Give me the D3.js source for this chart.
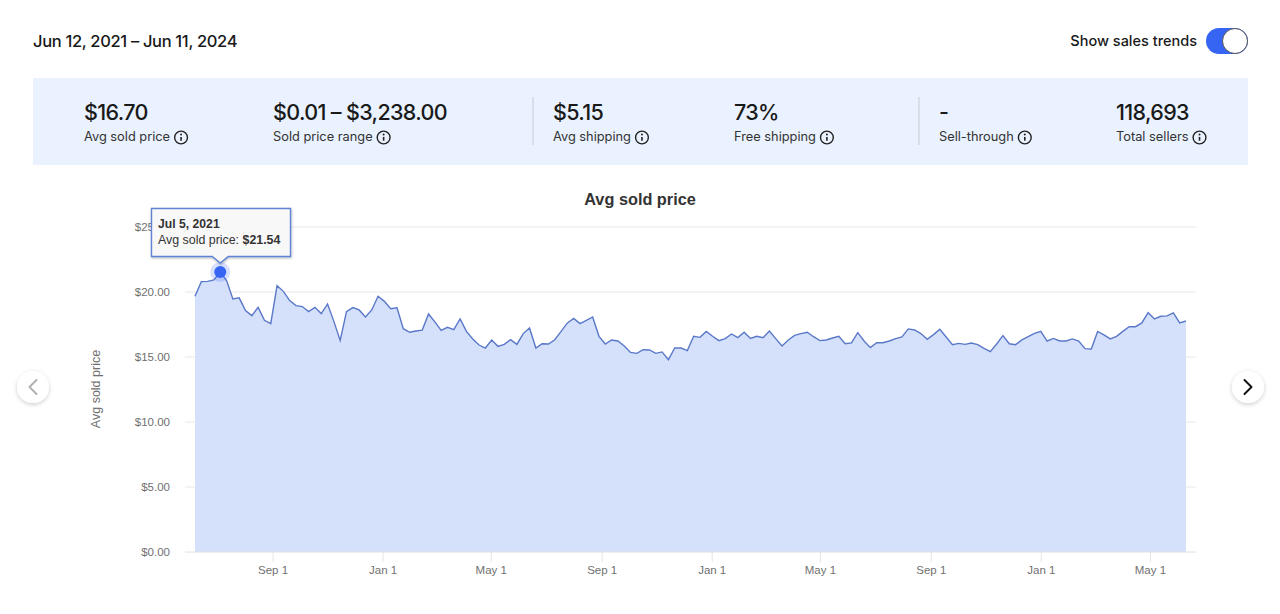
<!DOCTYPE html>
<html>
<head>
<meta charset="utf-8">
<script src="https://cdn.jsdelivr.net/npm/d3@7"></script>
<style>
    html, body { margin:0; padding:0; background:#fff; overflow:hidden; }
    svg { display:block; }
    .ui { font-family:Inter, "Open Sans", sans-serif; fill:#191919; }
    .chart text { font-family:"Liberation Sans", Arial, sans-serif; }
</style>
</head>
<body>
<svg id="page" width="1280" height="614"></svg>
<script>
var prices = [
    19.67,20.80,20.82,20.93,21.54,20.88,19.47,19.55,18.57,18.18,18.82,17.82,17.57,20.49,20.05,19.34,
    18.95,18.88,18.49,18.82,18.34,19.08,17.74,16.28,18.49,18.80,18.62,18.08,18.62,19.67,19.28,18.72,
    18.78,17.18,16.90,17.00,17.07,18.31,17.70,17.05,17.28,17.10,17.93,16.97,16.39,15.92,15.69,16.31,
    15.82,15.97,16.33,15.97,16.80,17.23,15.69,16.02,16.00,16.33,16.97,17.62,17.97,17.57,17.82,18.08,
    16.59,16.00,16.31,16.23,15.85,15.35,15.28,15.56,15.54,15.28,15.39,14.79,15.69,15.69,15.49,16.59,
    16.51,16.97,16.60,16.26,16.41,16.77,16.49,16.90,16.43,16.59,16.49,17.00,16.41,15.85,16.31,16.66,
    16.80,16.90,16.56,16.26,16.31,16.46,16.59,16.02,16.08,16.87,16.23,15.72,16.10,16.10,16.23,16.41,
    16.54,17.16,17.08,16.80,16.36,16.72,17.13,16.54,15.95,16.05,15.97,16.08,15.95,15.66,15.41,16.00,
    16.64,16.02,15.95,16.31,16.56,16.82,16.97,16.23,16.43,16.23,16.23,16.39,16.23,15.64,15.62,16.97,
    16.70,16.39,16.59,16.97,17.33,17.33,17.62,18.41,17.93,18.13,18.16,18.39,17.62,17.77
];
var firstWeek = new Date(2021, 5, 7);
var yTicks = [0, 5, 10, 15, 20, 25];
var xTicks = [new Date(2021,8,1), new Date(2022,0,1), new Date(2022,4,1), new Date(2022,8,1),
    new Date(2023,0,1), new Date(2023,4,1), new Date(2023,8,1), new Date(2024,0,1), new Date(2024,4,1)];

var statValues = ['$16.70', '$0.01 – $3,238.00', '$5.15', '73%', '-', '118,693'];
var statLabels = ['Avg sold price', 'Sold price range', 'Avg shipping', 'Free shipping', 'Sell-through', 'Total sellers'];
var statLeft = [84, 273, 553, 734, 939, 1116];
var dividers = [533, 919];

var dateRange = 'Jun 12, 2021 – Jun 11, 2024';
var highlighted = 4;

var svg = d3.select('#page');

var defs = svg.append('defs');
var shadow = defs.append('filter').attr('id','btnShadow').attr('x','-40%').attr('y','-40%').attr('width','180%').attr('height','180%');
shadow.append('feDropShadow').attr('dx',0).attr('dy',1.5).attr('stdDeviation',2).attr('flood-color','#000').attr('flood-opacity',0.2);
var tipShadow = defs.append('filter').attr('id','tipShadow').attr('x','-10%').attr('y','-20%').attr('width','120%').attr('height','140%');
tipShadow.append('feDropShadow').attr('dx',0.5).attr('dy',1).attr('stdDeviation',1).attr('flood-color','#000').attr('flood-opacity',0.3);

// header
svg.append('text').attr('class','ui').attr('x',33).attr('y',46.5)
    .style('font-size','16.5px').style('letter-spacing','-0.33px').style('font-weight',500).text(dateRange);
svg.append('text').attr('class','ui').attr('x',1197).attr('y',45.5).attr('text-anchor','end')
    .style('font-size','14.5px').style('font-weight',500).text('Show sales trends');

var toggle = svg.append('g');
toggle.append('rect').attr('x',1206).attr('y',28).attr('width',42).attr('height',26).attr('rx',13).attr('fill','#3665f3');
toggle.append('circle').attr('cx',1235).attr('cy',41).attr('r',12.5).attr('fill','#fff').attr('stroke','#555').attr('stroke-width',1);

// stats band
svg.append('rect').attr('x',33).attr('y',78).attr('width',1215).attr('height',87).attr('fill','#e9f2fe');

svg.selectAll('.divider').data(dividers).enter().append('line')
    .attr('class','divider').attr('x1',function(d){return d}).attr('x2',function(d){return d})
    .attr('y1',97).attr('y2',145).attr('stroke','#c9ccd3');

var stat = svg.selectAll('.stat').data(statValues).enter().append('g')
    .attr('class','stat')
    .attr('transform',function(d,i){return 'translate('+statLeft[i]+',0)'});

stat.append('text').attr('class','ui').attr('y',119.5)
    .style('font-size','21.5px').style('letter-spacing','-0.65px').style('font-weight',500).text(function(d){return d});

stat.append('text').attr('class','ui stat-label').attr('y',141)
    .style('font-size','12.8px').style('fill','#333').text(function(d,i){return statLabels[i]});

stat.each(function(){
    var g = d3.select(this);
    var cx = g.select('.stat-label').node().getComputedTextLength() + 11;
    var icon = g.append('g').attr('transform','translate('+cx+',137.5)').attr('stroke','#222').attr('fill','none');
    icon.append('circle').attr('r',6.4).attr('stroke-width',1.4);
    icon.append('line').attr('y1',-0.6).attr('y2',3.2).attr('stroke-width',1.6);
    icon.append('circle').attr('cy',-3).attr('r',1).attr('fill','#222').attr('stroke','none');
});

// chart
var chart = svg.append('g').attr('class','chart');

var weeks = prices.map(function(d,i){return d3.timeDay.offset(firstWeek, i*7)});
var x = d3.scaleTime().domain([weeks[0], weeks[weeks.length-1]]).range([195, 1186]);
var y = d3.scaleLinear().domain([0, 25]).range([552, 227]);

chart.append('text').attr('x',640).attr('y',204.5).attr('text-anchor','middle')
    .style('font-size','16.3px').style('font-weight',700).style('fill','#333').text('Avg sold price');

chart.append('text').attr('transform','translate(100,389) rotate(-90)').attr('text-anchor','middle')
    .style('font-size','12.5px').style('fill','#707070').text('Avg sold price');

var yAxis = d3.axisLeft(y).tickValues(yTicks).tickSize(0).tickPadding(15)
    .tickFormat(function(d){return '$'+d.toFixed(2)});
var yG = chart.append('g').attr('transform','translate(185,0)').call(yAxis);
yG.select('.domain').remove();
yG.selectAll('text').style('font-size','11.5px').style('fill','#707070').attr('font-family',null);

chart.selectAll('.grid').data(yTicks.filter(function(d){return d>0})).enter().append('line')
    .attr('class','grid').attr('x1',185).attr('x2',1196)
    .attr('y1',function(d){return y(d)}).attr('y2',function(d){return y(d)})
    .attr('stroke','#e8e8e8');

var area = d3.area()
    .x(function(d,i){return x(weeks[i])})
    .y0(y(0))
    .y1(function(d){return y(d)});
var line = d3.line()
    .x(function(d,i){return x(weeks[i])})
    .y(function(d){return y(d)});

chart.append('path').datum(prices).attr('d',area).attr('fill','#d5e0fb');
chart.append('path').datum(prices).attr('d',line).attr('fill','none').attr('stroke','#5a78c8').attr('stroke-width',1.4);

var xAxis = d3.axisBottom(x).tickValues(xTicks).tickSize(10).tickPadding(4)
    .tickFormat(d3.timeFormat('%b %-d'));
var xG = chart.append('g').attr('transform','translate(0,552)').call(xAxis);
xG.select('.domain').remove();
xG.selectAll('line').attr('stroke','#e4e4e4');
xG.selectAll('text').style('font-size','11.5px').style('fill','#707070').attr('font-family',null);
chart.append('line').attr('x1',185).attr('x2',1196).attr('y1',552).attr('y2',552).attr('stroke','#e0e0e0');

// highlighted point and tooltip
var hx = x(weeks[highlighted]), hy = y(prices[highlighted]);
chart.append('circle').attr('cx',hx).attr('cy',hy).attr('r',10).attr('fill','#3665f3').attr('opacity',0.2);
chart.append('circle').attr('cx',hx).attr('cy',hy).attr('r',6).attr('fill','#3665f3');

var tip = chart.append('g');
tip.append('path')
    .attr('d','M151.5,208.5H290.5V256.5H'+(hx+8)+'L'+hx+',263L'+(hx-8)+',256.5H151.5Z')
    .attr('fill','#f8f8f8').attr('stroke','#5f83d2').attr('stroke-width',1.4).attr('filter','url(#tipShadow)');
tip.append('text').attr('x',158).attr('y',228).style('font-size','12.2px').style('font-weight',700).style('fill','#333')
    .text(d3.timeFormat('%b %-d, %Y')(weeks[highlighted]));
var tipLine = tip.append('text').attr('x',158).attr('y',244).style('font-size','12.4px').style('fill','#333');
tipLine.append('tspan').text('Avg sold price: ');
tipLine.append('tspan').style('font-weight',700).text('$'+prices[highlighted].toFixed(2));

// carousel buttons
var buttons = [
    {cx:33, dir:-1, colour:'#b0b0b0'},
    {cx:1248, dir:1, colour:'#111'}
];
var btn = svg.selectAll('.nav').data(buttons).enter().append('g')
    .attr('class','nav')
    .attr('transform',function(d){return 'translate('+d.cx+',387)'});
btn.append('circle').attr('r',16).attr('fill','#fff').attr('filter','url(#btnShadow)');
btn.append('path')
    .attr('d',function(d){return 'M'+(-3.5*d.dir)+',-7L'+(3.5*d.dir)+',0L'+(-3.5*d.dir)+',7'})
    .attr('fill','none').attr('stroke',function(d){return d.colour}).attr('stroke-width',2).attr('stroke-linecap','round').attr('stroke-linejoin','round');
</script>
</body>
</html>
